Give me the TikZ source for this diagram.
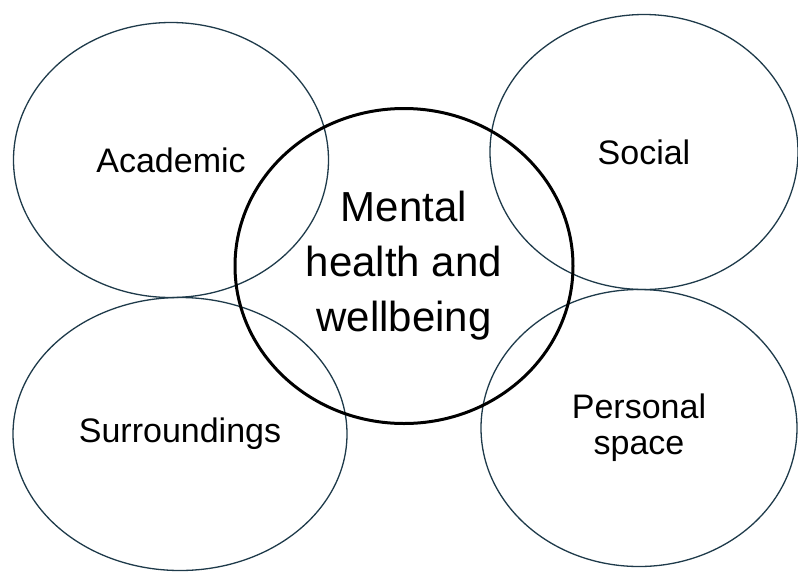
\documentclass[tikz,border=0pt]{standalone}
\usepackage{fontspec}
\setmainfont{Liberation Sans}
\usepackage{xcolor}
\usepackage{tikz}
\usetikzlibrary{shapes.geometric}
\usetikzlibrary{positioning}
\definecolor{rim}{HTML}{1E3A4A}
\tikzstyle{topic} = [draw=rim, line width=1.3pt, ellipse, inner sep=0pt, align=center, font=\fontsize{34}{36}\selectfont]
\tikzstyle{core} = [draw=black, line width=3pt, ellipse, inner sep=0pt, align=center, font=\fontsize{42}{55}\selectfont]

\begin{document}
\begin{tikzpicture}[x=1pt, y=-1pt]
\useasboundingbox (0,0) rectangle (798,571);
% the four areas round the centre
\node [topic, minimum width=315pt, minimum height=275pt] (academic) at (171,160) {Academic};
\node [topic, minimum width=308pt, minimum height=275pt] (social) at (644,152) {Social};
\node [topic, minimum width=334pt, minimum height=273pt] (surroundings) at (180,434) {Surroundings};
\node [topic, minimum width=316pt, minimum height=277pt] (personal) at (639,428) {Personal\\space};
% centre
\node [core, minimum width=338pt, minimum height=315pt] (mental) at (404,266) {Mental\\health and\\wellbeing};
\end{tikzpicture}
\end{document}
